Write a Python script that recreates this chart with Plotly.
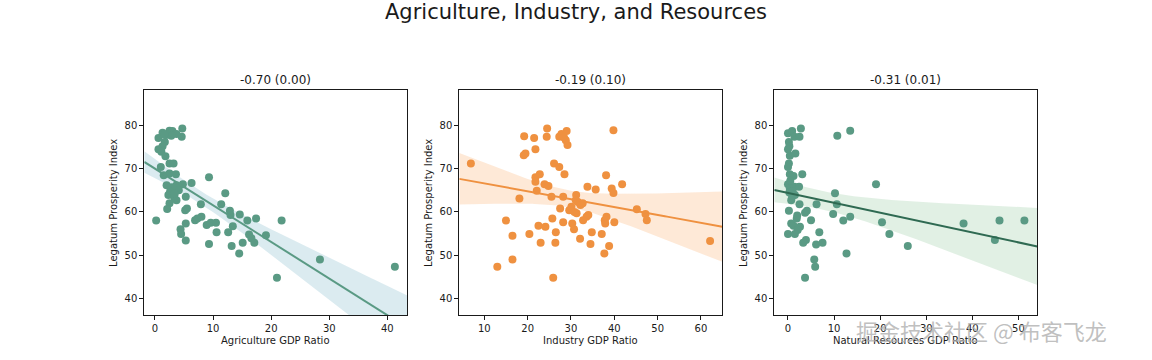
import numpy as np
import plotly.graph_objects as go

# ---------------- data ----------------
agri_x = [4.7, 2.5, 3.0, 1.3, 0.6, 1.9, 4.6, 3.7, 1.7, 1.3, 0.6, 1.1, 1.8, 2.5, 3.2, 1.0,
          1.5, 2.5, 3.6, 2.0, 6.3, 4.8, 3.7, 2.9, 2.6, 4.1, 2.3, 3.3, 3.7, 5.3, 2.5, 2.1,
          5.2, 5.5, 0.2, 4.4, 4.5, 5.3, 5.3, 9.3, 7.9, 6.9, 7.3, 8.0, 8.9, 9.6, 10.5, 9.3,
          10.6, 12.1, 11.4, 12.9, 13.0, 12.6, 13.4, 13.2, 14.6, 14.5, 15.1, 15.9, 16.2, 16.6,
          17.1, 17.4, 19.1, 21.8, 21.0, 28.4, 41.3, 2.8, 1.6, 3.4]
agri_y = [79.3, 78.8, 78.7, 78.3, 77.1, 77.8, 77.4, 78.0, 76.2, 75.2, 74.5, 73.9, 72.9, 71.2, 71.2, 70.4,
          68.5, 68.9, 68.7, 66.2, 66.7, 66.4, 66.2, 65.7, 64.7, 65.0, 63.9, 63.4, 62.7, 63.5, 62.0, 60.7,
          60.4, 60.8, 58.0, 56.0, 54.9, 57.3, 53.4, 68.0, 61.8, 58.1, 58.5, 58.9, 57.0, 57.5, 57.5, 52.6,
          55.3, 64.3, 61.8, 60.3, 59.3, 55.3, 56.7, 52.1, 59.4, 50.4, 52.9, 58.0, 54.8, 53.9,
          52.9, 58.5, 54.6, 58.0, 44.8, 49.0, 47.3, 77.6, 77.9, 64.2]

ind_x = [6.9, 13.0, 15.0, 16.5, 16.5, 18.1, 19.2, 19.1, 19.5, 21.5, 21.8, 21.8, 21.8, 22.1, 20.4,
         22.5, 24.1, 23.0, 24.5, 24.4, 22.8, 23.9, 24.8, 25.5, 25.7, 26.1, 26.5, 26.4, 25.9, 27.3,
         27.3, 27.8, 29.0, 28.4, 28.8, 29.2, 28.5, 28.2, 27.5, 28.2, 29.6, 30.1, 30.3, 30.7, 31.2,
         31.1, 31.3, 32.1, 32.7, 32.8, 33.6, 34.0, 33.8, 35.7, 34.5, 34.8, 37.1, 37.7, 38.8, 38.1,
         37.8, 38.2, 37.9, 39.4, 39.8, 40.0, 39.8, 41.8, 45.2, 47.2, 47.5, 62.1, 31.6, 32.2, 30.8]
ind_y = [71.2, 47.3, 58.0, 54.5, 49.0, 63.1, 77.5, 73.1, 73.5, 77.1, 74.5, 68.0, 67.0, 64.9, 54.9,
         56.8, 56.6, 52.9, 79.3, 77.4, 68.7, 66.4, 66.0, 63.5, 58.5, 71.2, 55.3, 52.9, 44.8, 70.4,
         77.4, 78.0, 78.7, 77.2, 76.6, 75.5, 68.7, 63.5, 60.8, 57.6, 60.4, 61.2, 57.3, 56.0, 63.9,
         62.7, 59.7, 53.8, 62.0, 58.1, 58.9, 59.3, 65.8, 65.2, 52.6, 55.3, 54.9, 50.4, 52.1, 68.5,
         58.1, 58.9, 57.3, 65.4, 64.4, 57.6, 78.9, 66.4, 60.6, 59.5, 58.1, 53.3, 62.3, 61.6, 60.0]

res_x = [0.0, 0.9, 1.4, 2.8, 2.5, 0.2, 0.3, 0.0, 0.4, 1.6, 0.2, 0.0, 0.4, 1.2, 3.1, 0.0, 0.4,
         1.4, 2.4, 0.3, 0.9, 1.5, 0.7, 2.5, 0.2, 3.7, 4.1, 6.2, 5.0, 1.9, 0.7, 1.2, 2.6, 2.1, 0.0,
         1.5, 3.9, 3.3, 6.8, 6.1, 7.5, 5.7, 5.9, 3.7, 9.8, 10.2, 10.6, 10.7, 13.5, 13.5, 12.0, 12.7,
         19.1, 20.4, 22.0, 26.0, 38.1, 44.9, 45.9, 51.3, 1.0, 0.5, 2.0]
res_y = [78.2, 78.7, 77.4, 79.3, 77.4, 76.2, 75.2, 74.5, 73.0, 73.5, 71.2, 70.4, 68.7, 68.3, 68.7,
         66.4, 65.4, 65.8, 65.8, 64.5, 63.5, 63.9, 62.7, 61.8, 60.3, 59.8, 60.3, 61.8, 58.1, 58.5,
         57.3, 56.8, 56.6, 55.8, 54.9, 54.9, 53.5, 52.9, 55.3, 52.5, 52.9, 49.0, 47.3, 44.8, 59.5,
         64.3, 61.8, 77.6, 78.8, 58.9, 58.0, 50.4, 66.4, 57.6, 54.9, 52.1, 57.3, 53.5, 58.0, 58.0,
         64.8, 67.2, 59.2]

panel_titles = ["-0.70 (0.00)", "-0.19 (0.10)", "-0.31 (0.01)"]
x_labels = ["Agriculture GDP Ratio", "Industry GDP Ratio", "Natural Resources GDP Ratio"]
y_label = "Legatum Prosperity Index"
main_title = "Agriculture, Industry, and Resources"
x_ticks = [[0, 10, 20, 30, 40], [10, 20, 30, 40, 50, 60], [0, 10, 20, 30, 40, 50]]
y_ticks = [40, 50, 60, 70, 80]
watermark = "掘金技术社区 @ 布客飞龙"

# ---------------- styling ----------------
W, H = 1152, 360
x_ranges = [[-1.84, 43.44], [4.23, 64.92], [-2.97, 54.1]]
y_range = [36.1, 88.2]
px_left = [144.3, 459.3, 774.3]
px_right = [407.3, 722.3, 1037.3]
px_top, px_bot = 90, 315.3
marker_cols = ["#5a9a84", "#ef9140", "#5a9a84"]
line_cols = ["#5a9a84", "#ef9140", "#2f6a52"]
band_cols = ["rgba(190,218,228,0.55)", "rgba(253,218,188,0.6)", "rgba(200,227,206,0.55)"]
FONT = "DejaVu Sans"
TXT = "#1a1a1a"

datasets = [(agri_x, agri_y), (ind_x, ind_y), (res_x, res_y)]

fig = go.Figure()
layout = dict(
    width=W, height=H, margin=dict(l=0, r=0, t=0, b=0),
    paper_bgcolor="white", plot_bgcolor="white", showlegend=False,
    font=dict(family=FONT, size=10, color=TXT),
)
annotations = []

for i, (xs, ys) in enumerate(datasets):
    xs = np.asarray(xs, float)
    ys = np.asarray(ys, float)
    xa = "x" if i == 0 else f"x{i+1}"
    ya = "y" if i == 0 else f"y{i+1}"
    # regression and 95% CI of the fitted mean
    n = len(xs)
    b, a = np.polyfit(xs, ys, 1)
    grid = np.linspace(x_ranges[i][0], x_ranges[i][1], 120)
    fit = a + b * grid
    resid = ys - (a + b * xs)
    s = np.sqrt(np.sum(resid ** 2) / (n - 2))
    sxx = np.sum((xs - xs.mean()) ** 2)
    se = s * np.sqrt(1.0 / n + (grid - xs.mean()) ** 2 / sxx)
    t = 1.995
    lo, hi = fit - t * se, fit + t * se

    fig.add_trace(go.Scatter(x=np.concatenate([grid, grid[::-1]]),
                             y=np.concatenate([hi, lo[::-1]]),
                             fill="toself", fillcolor=band_cols[i], line=dict(width=0),
                             mode="lines", hoverinfo="skip", xaxis=xa, yaxis=ya))
    fig.add_trace(go.Scatter(x=xs, y=ys, mode="markers",
                             marker=dict(size=8, color=marker_cols[i], line=dict(width=0)),
                             xaxis=xa, yaxis=ya))
    fig.add_trace(go.Scatter(x=grid, y=fit, mode="lines",
                             line=dict(color=line_cols[i], width=2),
                             xaxis=xa, yaxis=ya))

    dom_x = [px_left[i] / W, px_right[i] / W]
    dom_y = [1 - px_bot / H, 1 - px_top / H]
    axis_common = dict(showline=True, linecolor=TXT, linewidth=1, mirror=True,
                       ticks="outside", ticklen=4, tickwidth=1, tickcolor=TXT,
                       showgrid=False, zeroline=False,
                       tickfont=dict(family=FONT, size=10, color=TXT))
    layout["xaxis" if i == 0 else f"xaxis{i+1}"] = dict(
        domain=dom_x, range=x_ranges[i], tickvals=x_ticks[i], anchor=ya, **axis_common)
    layout["yaxis" if i == 0 else f"yaxis{i+1}"] = dict(
        domain=dom_y, range=y_range, tickvals=y_ticks, anchor=xa, **axis_common)

    cx = (px_left[i] + px_right[i]) / 2 / W
    annotations.append(dict(text=panel_titles[i], x=cx, y=1 - 80 / H, xref="paper", yref="paper",
                            showarrow=False, font=dict(family=FONT, size=12, color=TXT),
                            xanchor="center", yanchor="middle"))
    annotations.append(dict(text=x_labels[i], x=cx, y=1 - 340 / H, xref="paper", yref="paper",
                            showarrow=False, font=dict(family=FONT, size=10, color=TXT),
                            xanchor="center", yanchor="middle"))
    annotations.append(dict(text=y_label, x=(px_left[i] - 31) / W, y=1 - (px_top + px_bot) / 2 / H,
                            xref="paper", yref="paper", textangle=-90,
                            showarrow=False, font=dict(family=FONT, size=10, color=TXT),
                            xanchor="center", yanchor="middle"))

annotations.append(dict(text=main_title, x=0.5, y=1 - 12 / H, xref="paper", yref="paper",
                        showarrow=False, font=dict(family=FONT, size=21, color=TXT),
                        xanchor="center", yanchor="middle"))
annotations.append(dict(text=watermark, x=981 / W, y=1 - 330 / H, xref="paper", yref="paper",
                        showarrow=False, font=dict(family="Noto Sans CJK SC", size=22,
                                                    color="rgba(175,175,175,0.8)"),
                        xanchor="center", yanchor="middle"))
layout["annotations"] = annotations
fig.update_layout(**layout)
fig.write_html("out.html", config={"displayModeBar": False},
               post_script="document.body.style.margin='0';document.body.style.padding='0';")
